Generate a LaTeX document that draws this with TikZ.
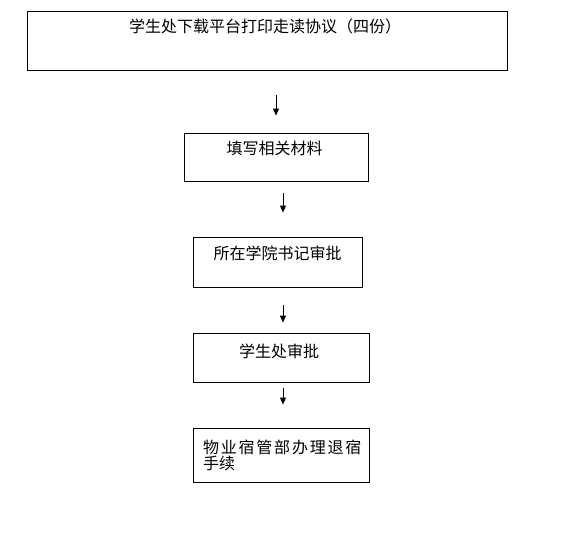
\documentclass[tikz,border=0pt]{standalone}
\usepackage{fontspec}
\usepackage{tikz}
\usetikzlibrary{arrows.meta}
\newfontfamily\cjk{Noto Sans CJK SC}
\newcommand{\cjkS}{\cjk\fontsize{16}{16}\selectfont}

\begin{document}
\begin{tikzpicture}[x=1pt, y=-1pt,
    box/.style={draw=black, line width=0.9pt, inner sep=0pt},
    lbl/.style={font=\cjkS, text=black, inner sep=0pt},
    flow/.style={-{Triangle[width=6pt, length=7pt]}, line width=0.9pt}]
  \useasboundingbox (0,0) rectangle (570,533);

  % Download box (top)
  \node[box, minimum width=480pt, minimum height=59pt] (dl) at (267,40.5) {};
  \node[lbl] (dltxt) at (265,26) {学生处下载平台打印走读协议（四份）};

  % Fill in materials
  \node[box, minimum width=184pt, minimum height=48pt] (fill) at (276,157) {};
  \node[lbl] (filltxt) at (274.5,148) {填写相关材料};

  % College secretary
  \node[box, minimum width=169pt, minimum height=50pt] (college) at (277.5,262) {};
  \node[lbl] (collegetxt) at (277.5,253) {所在学院书记审批};

  % Student office
  \node[box, minimum width=176pt, minimum height=49pt] (office) at (281,357.5) {};
  \node[lbl] (officetxt) at (279,351) {学生处审批};

  % Dormitory management
  \node[box, minimum width=176pt, minimum height=54pt] (dorm) at (281,455) {};
  \node[lbl, anchor=west, align=left] (dormtxt) at (203,455)
    {{\addfontfeatures{LetterSpace=11}物业宿管部办理退宿}\\手续};

  % Arrows between the steps
  \coordinate (axis) at (283,0);
  \draw[flow, shorten <=25pt, shorten >=17pt] (dl.south -| fill.north) -- (fill.north);
  \draw[flow, shorten <=12pt, shorten >=24pt] (fill.south -| axis) -- (college.north -| axis);
  \draw[flow, shorten <=18pt, shorten >=10pt] (college.south -| axis) -- (office.north -| axis);
  \draw[flow, shorten <=6pt, shorten >=23pt] (office.south -| axis) -- (dorm.north -| axis);
\end{tikzpicture}
\end{document}
